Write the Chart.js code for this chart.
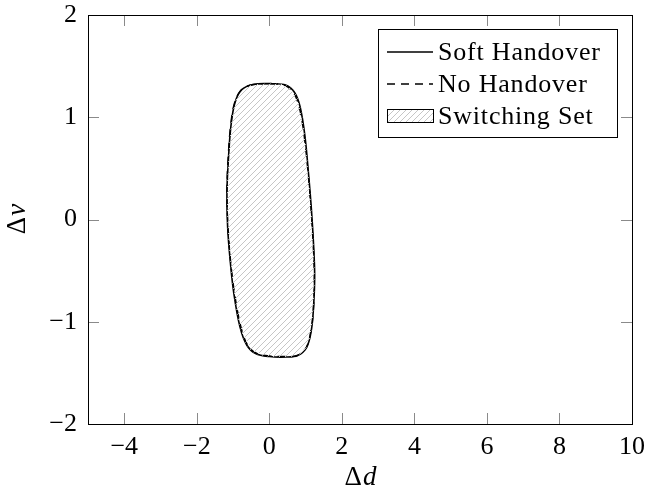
<!DOCTYPE html>
<html>
<head>
<meta charset="utf-8">
<script src="https://cdn.jsdelivr.net/npm/chart.js@4.4.1/dist/chart.umd.min.js"></script>
<style>
  html, body { margin: 0; padding: 0; background: #fff; }
  #wrap { width: 648px; height: 495px; }
</style>
</head>
<body>
<div id="wrap"><canvas id="regionChart" width="648" height="495"></canvas></div>
<script>
// boundary of the switching set (delta d, delta v)
var softD = [0.02, 0.45, 0.70, 0.85, 0.98, 1.08, 1.16, 1.22, 1.25, 1.22, 1.16, 1.03, 0.78, 0.45, 0.00,
             -0.38, -0.62, -0.81, -0.98, -1.08, -1.15, -1.17, -1.13, -1.06, -0.95, -0.76, -0.44, 0.02];
var softV = [1.33, 1.315, 1.24, 1.10, 0.82, 0.45, 0.10, -0.25, -0.55, -0.85, -1.08, -1.25, -1.33, -1.345, -1.34,
             -1.31, -1.23, -1.05, -0.72, -0.40, -0.07, 0.26, 0.58, 0.91, 1.14, 1.27, 1.32, 1.33];
// no handover curve almost on top of it
var noD = [0.02, 0.44, 0.68, 0.83, 0.96, 1.07, 1.15, 1.21, 1.24, 1.22, 1.15, 1.02, 0.77, 0.44, 0.00,
           -0.37, -0.61, -0.79, -0.96, -1.07, -1.14, -1.17, -1.14, -1.07, -0.96, -0.77, -0.45, 0.02];
var noV = [1.33, 1.31, 1.23, 1.09, 0.82, 0.45, 0.10, -0.25, -0.55, -0.85, -1.08, -1.25, -1.33, -1.34, -1.335,
           -1.305, -1.22, -1.04, -0.72, -0.40, -0.07, 0.26, 0.58, 0.91, 1.14, 1.27, 1.32, 1.33];

var xTicks = [-4, -2, 0, 2, 4, 6, 8, 10];
var yTicks = [-2, -1, 0, 1, 2];
var seriesNames = ['Soft Handover', 'No Handover', 'Switching Set'];
var xTitle = ['\u0394', 'd'];
var yTitle = ['\u0394', 'v'];

var serif = "'Liberation Serif', 'DejaVu Serif', serif";

function toPoints(xs, ys) {
    var pts = [];
    for (let i = 0; i < xs.length; i++) {
        pts.push({ x: xs[i], y: ys[i] });
    }
    return pts;
}

function fmt(v) {
    return v < 0 ? '\u2212' + Math.abs(v) : String(v);
}

// hatch pattern  ////
function makeHatch(color) {
    var s = 6;
    var c = document.createElement('canvas');
    c.width = s; c.height = s;
    var g = c.getContext('2d');
    g.strokeStyle = color;
    g.lineWidth = 1;
    g.beginPath();
    g.moveTo(0, s); g.lineTo(s, 0);
    g.moveTo(-1, 1); g.lineTo(1, -1);
    g.moveTo(s - 1, s + 1); g.lineTo(s + 1, s - 1);
    g.stroke();
    return g.createPattern(c, 'repeat');
}
var hatch = makeHatch('#c6c6c6');

Chart.defaults.font.family = serif;
Chart.defaults.font.size = 26;
Chart.defaults.color = '#000';

// "Δ" upright followed by an italic letter, centred on (cx, cy)
function drawMathTitle(ctx, parts, cx, cy, rot) {
    ctx.save();
    ctx.translate(cx, cy);
    ctx.rotate(rot);
    ctx.textBaseline = 'middle';
    ctx.textAlign = 'left';
    ctx.fillStyle = '#000';
    var up = '27px ' + serif, it = 'italic 27px ' + serif;
    ctx.font = up;
    var w1 = ctx.measureText(parts[0]).width;
    ctx.font = it;
    var w2 = ctx.measureText(parts[1]).width;
    var x0 = -(w1 + w2) / 2;
    ctx.font = up;
    ctx.fillText(parts[0], x0, 0);
    ctx.font = it;
    ctx.fillText(parts[1], x0 + w1 + 1, 0);
    ctx.restore();
}

// frame, inner tick marks, axis titles and the boxed legend
var framePlugin = {
    id: 'framePlugin',
    afterDraw: function (chart) {
        var ctx = chart.ctx;
        var a = chart.chartArea;
        var xs = chart.scales.x, ys = chart.scales.y;
        var tl = 11;
        ctx.save();
        ctx.strokeStyle = '#8a8a8a';
        ctx.lineWidth = 1;
        ctx.beginPath();
        xs.ticks.forEach(function (t) {
            var px = Math.round(xs.getPixelForValue(t.value)) + 0.5;
            ctx.moveTo(px, a.bottom); ctx.lineTo(px, a.bottom - tl);
            ctx.moveTo(px, a.top); ctx.lineTo(px, a.top + tl);
        });
        ys.ticks.forEach(function (t) {
            var py = Math.round(ys.getPixelForValue(t.value)) + 0.5;
            ctx.moveTo(a.left, py); ctx.lineTo(a.left + tl, py);
            ctx.moveTo(a.right, py); ctx.lineTo(a.right - tl, py);
        });
        ctx.stroke();

        ctx.strokeStyle = '#000';
        ctx.strokeRect(Math.round(a.left) + 0.5, Math.round(a.top) + 0.5,
            Math.round(a.right - a.left), Math.round(a.bottom - a.top));

        drawMathTitle(ctx, xTitle, (a.left + a.right) / 2, 478, 0);
        drawMathTitle(ctx, yTitle, 18, (a.top + a.bottom) / 2, -Math.PI / 2);

        // legend box
        var bx = 378.5, by = 29.5, bw = 239, bh = 108;
        ctx.fillStyle = '#fff';
        ctx.fillRect(bx, by, bw, bh);
        ctx.strokeRect(bx, by, bw, bh);
        var rows = [52, 84, 116];
        var sx0 = 387, sx1 = 433;

        ctx.lineWidth = 1.3;
        ctx.beginPath(); ctx.moveTo(sx0, rows[0]); ctx.lineTo(sx1, rows[0]); ctx.stroke();
        ctx.setLineDash([8, 6]);
        ctx.beginPath(); ctx.moveTo(sx0, rows[1]); ctx.lineTo(sx1, rows[1]); ctx.stroke();
        ctx.setLineDash([]);
        ctx.fillStyle = hatch;
        ctx.fillRect(sx0, rows[2] - 7, sx1 - sx0, 13);
        ctx.lineWidth = 1;
        ctx.strokeRect(sx0 + 0.5, rows[2] - 6.5, sx1 - sx0, 13);

        ctx.font = '26px ' + serif;
        ctx.letterSpacing = '0.8px';
        ctx.textBaseline = 'middle';
        ctx.textAlign = 'left';
        ctx.fillStyle = '#000';
        for (let i = 0; i < rows.length; i++) {
            ctx.fillText(seriesNames[i], 438, rows[i] + 1);
        }
        ctx.restore();
    }
};

var ctx = document.getElementById('regionChart').getContext('2d');
window.regionChart = new Chart(ctx, {
    type: 'scatter',
    data: {
        datasets: [{
            label: seriesNames[2],
            data: toPoints(softD, softV),
            showLine: true,
            fill: 'shape',
            backgroundColor: hatch,
            borderWidth: 0,
            borderColor: 'rgba(0,0,0,0)',
            pointRadius: 0,
            tension: 0.35
        }, {
            label: seriesNames[0],
            data: toPoints(softD, softV),
            showLine: true,
            fill: false,
            borderColor: '#000',
            borderWidth: 1.6,
            pointRadius: 0,
            tension: 0.35
        }, {
            label: seriesNames[1],
            data: toPoints(noD, noV),
            showLine: true,
            fill: false,
            borderColor: '#000',
            borderWidth: 1.4,
            borderDash: [8, 6],
            pointRadius: 0,
            tension: 0.35
        }]
    },
    options: {
        responsive: false,
        animation: false,
        devicePixelRatio: 1,
        layout: { padding: { top: 15, right: 16, left: 0, bottom: 0 } },
        plugins: {
            legend: { display: false },
            tooltip: { enabled: false }
        },
        scales: {
            x: {
                type: 'linear',
                min: -5,
                max: 10,
                grid: { display: false, drawTicks: false },
                border: { display: false },
                afterBuildTicks: function (scale) {
                    scale.ticks = xTicks.map(function (v) { return { value: v }; });
                },
                afterFit: function (scale) {
                    scale.height = 71;
                    scale.paddingLeft = 0;
                    scale.paddingRight = 0;
                },
                ticks: {
                    padding: 8,
                    maxRotation: 0,
                    callback: function (v) { return fmt(v); }
                }
            },
            y: {
                type: 'linear',
                min: -2,
                max: 2,
                grid: { display: false, drawTicks: false },
                border: { display: false },
                afterBuildTicks: function (scale) {
                    scale.ticks = yTicks.map(function (v) { return { value: v }; });
                },
                afterFit: function (scale) {
                    scale.width = 88;
                    scale.paddingTop = 0;
                    scale.paddingBottom = 0;
                },
                ticks: {
                    padding: 11,
                    callback: function (v) { return fmt(v); }
                }
            }
        }
    },
    plugins: [framePlugin]
});
</script>
</body>
</html>
